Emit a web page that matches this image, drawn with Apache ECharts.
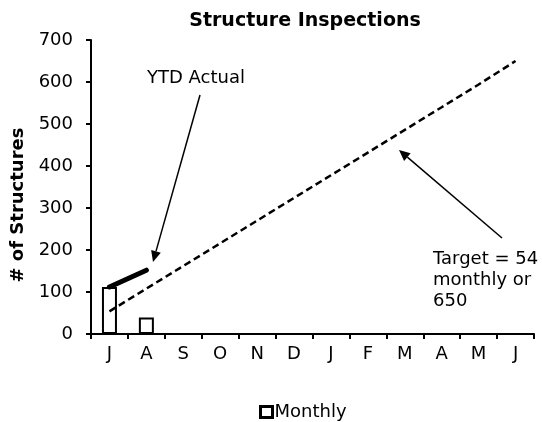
<!DOCTYPE html>
<html>
<head>
<meta charset="utf-8">
<script src="https://cdn.jsdelivr.net/npm/echarts@6/dist/echarts.min.js"></script>
<style>
  html, body { margin: 0; padding: 0; background: #fff; }
  #chart { width: 542px; height: 422px; }
</style>
</head>
<body>
<div id="chart"></div>
<script>
// month labels, fiscal year Jul..Jun
const months = ['J', 'A', 'S', 'O', 'N', 'D', 'J', 'F', 'M', 'A', 'M', 'J']
const monthly = [112, 39, null, null, null, null, null, null, null, null, null, null]
const ytdActual = [112, 152, null, null, null, null, null, null, null, null, null, null]
const target = [54, 108, 162, 216, 270, 324, 378, 432, 486, 540, 594, 650]
const yTicks = { min: 0, max: 700, interval: 100 }

const font = '"DejaVu Sans", Arial, sans-serif'

// arrow helper for annotation callouts (pixel space)
function arrow(x1, y1, x2, y2) {
  const a = Math.atan2(y2 - y1, x2 - x1)
  const len = 11, w = 5
  const bx = x2 - len * Math.cos(a), by = y2 - len * Math.sin(a)
  const px = -Math.sin(a) * w, py = Math.cos(a) * w
  return [
    { type: 'line', shape: { x1, y1, x2: bx, y2: by }, style: { stroke: '#000', lineWidth: 1.5 } },
    { type: 'polygon', shape: { points: [[x2, y2], [bx + px, by + py], [bx - px, by - py]] }, style: { fill: '#000' } }
  ]
}

const chart = echarts.init(document.getElementById('chart'))
chart.setOption({
  animation: false,
  textStyle: { fontFamily: font },
  title: {
    text: 'Structure Inspections',
    left: 300,
    textAlign: 'center',
    top: 7,
    textStyle: { fontFamily: font, fontSize: 19, fontWeight: 'bold', color: '#000' }
  },
  legend: {
    data: ['Monthly'],
    left: 254,
    top: 398,
    icon: 'rect',
    itemWidth: 12,
    itemHeight: 11,
    itemGap: 5,
    itemStyle: { color: '#fff', borderColor: '#000', borderWidth: 3 },
    textStyle: { fontFamily: font, fontSize: 18, color: '#000', padding: [0, 0, 0, -3] }
  },
  grid: { left: 91, right: 8, top: 40, bottom: 88 },
  xAxis: {
    type: 'category',
    data: months,
    boundaryGap: true,
    axisLine: { lineStyle: { color: '#000', width: 2 } },
    axisTick: { show: true, length: 5, lineStyle: { color: '#000', width: 2 } },
    axisLabel: { color: '#000', fontSize: 18, fontFamily: font, margin: 11 }
  },
  yAxis: {
    type: 'value',
    min: yTicks.min,
    max: yTicks.max,
    interval: yTicks.interval,
    name: '# of Structures',
    nameLocation: 'middle',
    nameGap: 62,
    nameTextStyle: { fontFamily: font, fontSize: 18, fontWeight: 'bold', color: '#000', padding: [0, 36, 0, 0] },
    splitLine: { show: false },
    axisLine: { show: true, lineStyle: { color: '#000', width: 2 } },
    axisTick: { show: true, length: 5, lineStyle: { color: '#000', width: 2 } },
    axisLabel: { color: '#000', fontSize: 18, fontFamily: font, margin: 18 }
  },
  series: [
    {
      name: 'Monthly',
      type: 'bar',
      data: monthly,
      barWidth: 15,
      itemStyle: { color: '#fff', borderColor: '#000', borderWidth: 2 }
    },
    {
      name: 'YTD Actual',
      type: 'line',
      data: ytdActual,
      showSymbol: false,
      lineStyle: { color: '#000', width: 5, cap: 'round' }
    },
    {
      name: 'Target',
      type: 'line',
      data: target,
      showSymbol: false,
      lineStyle: { color: '#000', width: 2.5, type: [7, 4] }
    }
  ],
  graphic: [
    { type: 'text', left: 147, top: 69, style: { text: 'YTD Actual', font: '18px ' + font, fill: '#000' } },
    { type: 'text', left: 433, top: 249, style: { text: 'Target = 54\nmonthly or\n650', font: '18px ' + font, fill: '#000', lineHeight: 21 } },
    ...arrow(200, 95, 153, 262),
    ...arrow(502, 238, 399, 150)
  ]
})
</script>
</body>
</html>
